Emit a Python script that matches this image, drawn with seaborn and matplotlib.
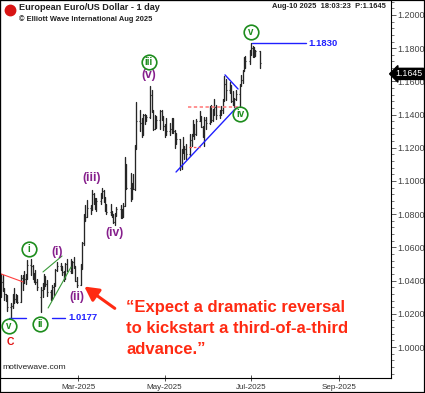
"""EUR/USD daily bars with Elliott wave labels (MotiveWave-style chart)."""

import matplotlib
import matplotlib.dates as mdates
import matplotlib.pyplot as plt
import matplotlib.ticker as mticker
import numpy as np
import pandas as pd
import seaborn as sns
from matplotlib.lines import Line2D
from matplotlib.patches import Rectangle
from matplotlib.transforms import blended_transform_factory

matplotlib.use("Agg")

# ------------------------------------------------------------
# daily OHLC, 2025-01-02 .. 2025-07-07 (business days)
# ------------------------------------------------------------
start_day = "2025-01-02"
end_day = "2025-07-07"

opens = [
    # Jan
    1.0352, 1.0265, 1.0308, 1.0390, 1.0343, 1.0318, 1.0300, 1.0243, 1.0244, 1.0307, 1.0290,
    1.0301, 1.0272, 1.0416, 1.0430, 1.0410, 1.0415, 1.0495, 1.0490, 1.0430, 1.0420, 1.0390,
    # Feb
    1.0300, 1.0345, 1.0380, 1.0405, 1.0380, 1.0330, 1.0305, 1.0360, 1.0380, 1.0465,
    1.0490, 1.0485, 1.0450, 1.0420, 1.0500, 1.0460, 1.0465, 1.0510, 1.0485, 1.0400,
    # Mar
    1.0375, 1.0485, 1.0625, 1.0790, 1.0785, 1.0835, 1.0835, 1.0920, 1.0890, 1.0850, 1.0880,
    1.0920, 1.0940, 1.0900, 1.0855, 1.0815, 1.0800, 1.0790, 1.0755, 1.0800, 1.0830,
    # Apr
    1.0815, 1.0790, 1.0850, 1.1050, 1.0960, 1.0910, 1.0960, 1.0950, 1.1200, 1.1360, 1.1350,
    1.1285, 1.1400, 1.1370, 1.1385, 1.1515, 1.1420, 1.1315, 1.1385, 1.1365, 1.1420, 1.1380,
    # May
    1.1330, 1.1290, 1.1300, 1.1315, 1.1370, 1.1300, 1.1230, 1.1250, 1.1090, 1.1190, 1.1175,
    1.1190, 1.1165, 1.1245, 1.1280, 1.1330, 1.1280, 1.1360, 1.1385, 1.1325, 1.1290, 1.1370,
    # Jun
    1.1350, 1.1440, 1.1370, 1.1420, 1.1445, 1.1395, 1.1420, 1.1425, 1.1485, 1.1585, 1.1550,
    1.1560, 1.1480, 1.1480, 1.1495, 1.1525, 1.1580, 1.1610, 1.1665, 1.1700, 1.1720,
    # Jul
    1.1785, 1.1800, 1.1800, 1.1755, 1.1780,
]
highs = [
    1.0367, 1.0310, 1.0437, 1.0435, 1.0355, 1.0320, 1.0314, 1.0265, 1.0318, 1.0353, 1.0318,
    1.0315, 1.0433, 1.0435, 1.0456, 1.0437, 1.0522, 1.0533, 1.0495, 1.0445, 1.0465, 1.0410,
    1.0360, 1.0385, 1.0442, 1.0425, 1.0405, 1.0345, 1.0375, 1.0385, 1.0470, 1.0513,
    1.0505, 1.0490, 1.0455, 1.0505, 1.0530, 1.0528, 1.0520, 1.0545, 1.0490, 1.0420,
    1.0500, 1.0630, 1.0800, 1.0855, 1.0888, 1.0855, 1.0947, 1.0925, 1.0895, 1.0900, 1.0925,
    1.0955, 1.0945, 1.0905, 1.0860, 1.0860, 1.0820, 1.0800, 1.0810, 1.0845, 1.0855,
    1.0830, 1.0870, 1.1145, 1.1100, 1.1050, 1.0990, 1.1040, 1.1215, 1.1474, 1.1425, 1.1380,
    1.1405, 1.1405, 1.1395, 1.1573, 1.1550, 1.1425, 1.1400, 1.1390, 1.1425, 1.1425, 1.1390,
    1.1345, 1.1380, 1.1350, 1.1380, 1.1380, 1.1310, 1.1290, 1.1255, 1.1195, 1.1265, 1.1210,
    1.1225, 1.1285, 1.1285, 1.1365, 1.1345, 1.1375, 1.1420, 1.1390, 1.1330, 1.1385, 1.1385,
    1.1450, 1.1455, 1.1435, 1.1495, 1.1455, 1.1430, 1.1450, 1.1495, 1.1630, 1.1615, 1.1595,
    1.1580, 1.1540, 1.1500, 1.1545, 1.1585, 1.1640, 1.1670, 1.1745, 1.1755, 1.1790,
    1.1830, 1.1810, 1.1805, 1.1790, 1.1785,
]
lows = [
    1.0226, 1.0230, 1.0300, 1.0340, 1.0285, 1.0280, 1.0215, 1.0177, 1.0235, 1.0265, 1.0270,
    1.0266, 1.0270, 1.0343, 1.0385, 1.0380, 1.0410, 1.0435, 1.0408, 1.0390, 1.0380, 1.0345,
    1.0210, 1.0300, 1.0350, 1.0365, 1.0305, 1.0285, 1.0290, 1.0316, 1.0370, 1.0460,
    1.0465, 1.0435, 1.0400, 1.0410, 1.0455, 1.0445, 1.0445, 1.0475, 1.0395, 1.0362,
    1.0375, 1.0470, 1.0615, 1.0760, 1.0785, 1.0800, 1.0825, 1.0860, 1.0830, 1.0820, 1.0860,
    1.0900, 1.0875, 1.0820, 1.0800, 1.0795, 1.0780, 1.0745, 1.0733, 1.0790, 1.0775,
    1.0777, 1.0780, 1.0850, 1.0950, 1.0880, 1.0890, 1.0950, 1.0945, 1.1195, 1.1300, 1.1265,
    1.1275, 1.1345, 1.1360, 1.1380, 1.1415, 1.1310, 1.1315, 1.1320, 1.1315, 1.1365, 1.1310,
    1.1265, 1.1275, 1.1275, 1.1290, 1.1290, 1.1200, 1.1220, 1.1065, 1.1075, 1.1170, 1.1130,
    1.1130, 1.1150, 1.1210, 1.1270, 1.1255, 1.1275, 1.1360, 1.1325, 1.1265, 1.1210, 1.1315,
    1.1345, 1.1355, 1.1360, 1.1400, 1.1375, 1.1380, 1.1400, 1.1410, 1.1480, 1.1490, 1.1530,
    1.1475, 1.1460, 1.1445, 1.1490, 1.1450, 1.1575, 1.1590, 1.1660, 1.1680, 1.1705,
    1.1760, 1.1745, 1.1745, 1.1750, 1.1680,
]
closes = [
    1.0265, 1.0308, 1.0390, 1.0343, 1.0318, 1.0300, 1.0243, 1.0244, 1.0307, 1.0290, 1.0301,
    1.0272, 1.0416, 1.0430, 1.0410, 1.0415, 1.0495, 1.0490, 1.0430, 1.0420, 1.0390, 1.0362,
    1.0345, 1.0380, 1.0405, 1.0380, 1.0330, 1.0305, 1.0360, 1.0380, 1.0465, 1.0490,
    1.0485, 1.0450, 1.0420, 1.0500, 1.0460, 1.0465, 1.0510, 1.0485, 1.0400, 1.0375,
    1.0485, 1.0625, 1.0790, 1.0785, 1.0835, 1.0835, 1.0920, 1.0890, 1.0850, 1.0880, 1.0920,
    1.0940, 1.0900, 1.0855, 1.0815, 1.0800, 1.0790, 1.0755, 1.0800, 1.0830, 1.0815,
    1.0790, 1.0850, 1.1050, 1.0960, 1.0910, 1.0960, 1.0950, 1.1200, 1.1360, 1.1350, 1.1285,
    1.1400, 1.1370, 1.1385, 1.1515, 1.1420, 1.1315, 1.1385, 1.1365, 1.1420, 1.1380, 1.1330,
    1.1290, 1.1300, 1.1315, 1.1370, 1.1300, 1.1230, 1.1250, 1.1090, 1.1190, 1.1175, 1.1190,
    1.1165, 1.1245, 1.1280, 1.1330, 1.1280, 1.1360, 1.1385, 1.1325, 1.1290, 1.1370, 1.1350,
    1.1440, 1.1370, 1.1420, 1.1445, 1.1395, 1.1420, 1.1425, 1.1485, 1.1585, 1.1550, 1.1560,
    1.1480, 1.1480, 1.1495, 1.1525, 1.1580, 1.1610, 1.1665, 1.1700, 1.1720, 1.1785,
    1.1800, 1.1800, 1.1755, 1.1780, 1.1710,
]

# wave labels: (text, date, price)
green_waves = [("v", "2025-01-11 10:00", 1.0127), ("i", "2025-01-25 12:00", 1.0590),
               ("ii", "2025-02-02 05:00", 1.0139), ("iii", "2025-04-20", 1.1717),
               ("iv", "2025-06-23 05:00", 1.1404), ("v", "2025-07-01", 1.1898)]
purple_waves = [("(i)", "2025-02-14 05:00", 1.0572), ("(ii)", "2025-02-28 08:00", 1.0301),
                ("(iii)", "2025-03-10 22:00", 1.1018), ("(iv)", "2025-03-26 10:00", 1.0685),
                ("(v)", "2025-04-20", 1.1639)]

low_level = 1.0177
high_level = 1.1830
last_price = "1.1645"

quote = "\u201cExpect a dramatic reversal\nto kickstart a third-of-a-third\nadvance.\u201d"

BAR = "#262626"
GREEN = "#1c8c1c"
PURPLE = "#861f8c"
BLUE = "#2020ff"
RED = "#ff2a12"


def dn(s):
    """Date string -> matplotlib date number."""
    return mdates.date2num(pd.Timestamp(s))


sns.set_theme(style="white")
plt.rcParams["font.family"] = ["Liberation Sans", "DejaVu Sans"]

dates = pd.bdate_range(start_day, end_day)
xnum = mdates.date2num(dates)
n = len(dates)

bars = pd.DataFrame({
    "x": np.repeat(xnum, 2),
    "price": np.column_stack([lows, highs]).ravel(),
    "bar": np.repeat(np.arange(n), 2),
})

fig = plt.figure(figsize=(4.25, 3.93), dpi=100)
ax = fig.add_axes([0.0, 15 / 393, 391 / 425, 378 / 393])

sns.lineplot(data=bars, x="x", y="price", units="bar", estimator=None,
             sort=False, color=BAR, linewidth=0.95, legend=False, ax=ax)
ax.hlines(opens, xnum - 0.7, xnum, color=BAR, linewidth=0.8)
ax.hlines(closes, xnum, xnum + 0.7, color=BAR, linewidth=0.8)

# axes range / ticks
mar1 = dn("2025-03-01")
ax.set_xlim(mar1 - 55.0, mar1 + 220.6)
ax.set_ylim(0.98133, 1.2090)
ax.set_xlabel("")
ax.set_ylabel("")
ax.xaxis.set_major_locator(mdates.MonthLocator(bymonth=[3, 5, 7, 9]))
ax.xaxis.set_major_formatter(mdates.DateFormatter("%b-%Y"))
ax.yaxis.tick_right()
ax.yaxis.set_major_locator(mticker.FixedLocator(np.arange(1.0, 1.2001, 0.02)))
ax.yaxis.set_major_formatter(mticker.FormatStrFormatter("%.4f"))
ax.yaxis.set_minor_locator(mticker.MultipleLocator(0.004))
ax.tick_params(axis="y", which="major", direction="out", length=3.5, width=0.6,
               labelsize=6.5, labelcolor="#444444", color="#444444", pad=1)
ax.tick_params(axis="y", which="minor", direction="out", length=2, width=0.5,
               color="#444444", right=True, left=False)
ax.tick_params(axis="x", which="major", direction="inout", length=4, width=0.6,
               labelsize=5.8, labelcolor="#333333", color="#333333", pad=2, bottom=True)
for s in ax.spines.values():
    s.set_color("black")
    s.set_linewidth(0.8)

# trend lines
ax.plot([dn("2025-01-02"), dn("2025-01-21 05:00")], [1.0452, 1.0392], color="#ff4040", lw=0.8)
ax.plot([dn("2025-02-04 07:00"), dn("2025-02-17 17:00")], [1.0452, 1.0548], color="#3a9a3a", lw=0.8)
ax.plot([dn("2025-02-07 22:00"), dn("2025-02-24 02:00")], [1.0235, 1.0482], color="#3a9a3a", lw=0.8)
ax.plot([dn("2025-01-11 10:00"), dn("2025-01-23")], [low_level, low_level], color=BLUE, lw=1)
ax.plot([dn("2025-02-10 17:00"), dn("2025-02-19 20:00")], [low_level, low_level], color=BLUE, lw=1)
ax.text(dn("2025-02-21 22:00"), low_level, f"{low_level:.4f}", color=BLUE, fontsize=6.8,
        fontweight="bold", va="center", ha="left")

ax.plot([dn("2025-05-09 02:00"), dn("2025-06-21 02:00")], [1.1054, 1.1446], color=BLUE, lw=1)
ax.plot([dn("2025-06-12 14:00"), dn("2025-06-21 19:00")], [1.1639, 1.1554], color=BLUE, lw=1)
ax.plot([dn("2025-05-17 12:00"), dn("2025-06-22")], [1.1446, 1.1446], color="#ff8080",
        lw=1.2, ls=(0, (2, 1.5)))
ax.plot([dn("2025-05-18 07:00"), dn("2025-05-26")], [1.1205, 1.1205], color="#ff5050",
        lw=0.9, ls=(0, (2, 1.5)))
ax.plot([dn("2025-07-01 17:00"), dn("2025-08-08 17:00")], [high_level, high_level], color=BLUE, lw=1)
ax.text(dn("2025-08-10"), high_level, f"{high_level:.4f}", color=BLUE, fontsize=6.8,
        fontweight="bold", va="center", ha="left")

# wave labels
for label, d, p in green_waves:
    ax.plot(dn(d), p, marker="o", ms=10.5, mfc="white", mec=GREEN, mew=1.2, zorder=5)
    ax.text(dn(d), p, label, color=GREEN, fontsize=7, fontweight="bold",
            ha="center", va="center", zorder=6)
for label, d, p in purple_waves:
    ax.text(dn(d), p, label, color=PURPLE, fontsize=8.7, fontweight="bold",
            ha="center", va="center")
ax.text(dn("2025-01-12"), 1.0030, "C", color="#e01010", fontsize=7.5, fontweight="bold",
        ha="center", va="center")

# comment + arrow
ax.annotate("", xy=(dn("2025-03-03 20:00"), 1.0374), xytext=(dn("2025-03-28 12:00"), 1.0223),
            arrowprops=dict(arrowstyle="-|>,head_length=0.6,head_width=0.32",
                            color=RED, lw=2.2, mutation_scale=14))
ax.text(dn("2025-04-04"), 1.0286, quote, color=RED, fontsize=12, fontweight="bold",
        ha="left", va="top", linespacing=1.5)

ax.text(0.007, 0.018, "motivewave.com", transform=ax.transAxes, fontsize=6.1,
        color="#222222", ha="left", va="bottom")

# last-price marker on the scale
trans = blended_transform_factory(ax.transAxes, ax.transData)
ax.text(1.046, 1.1645, last_price, transform=trans, color="white", fontsize=6.3,
        ha="center", va="center", clip_on=False, zorder=10,
        bbox=dict(boxstyle="larrow,pad=0.12", fc="black", ec="black"))

# header
fig.add_artist(Line2D([10 / 425], [1 - 10 / 393], marker="o", ms=7.5, color="#d81414",
                      transform=fig.transFigure))
fig.text(19 / 425, 1 - 8 / 393, "European Euro/US Dollar - 1 day", fontsize=6.6,
         fontweight="bold", color="#222222", ha="left", va="center")
fig.text(19 / 425, 1 - 19.5 / 393, "\u00a9 Elliott Wave International Aug 2025", fontsize=5.4,
         fontweight="bold", color="#222222", ha="left", va="center")
fig.text(386 / 425, 1 - 7 / 393, "Aug-10 2025  18:03:23  P:1.1645", fontsize=5.4,
         fontweight="bold", color="#222222", ha="right", va="center")

fig.add_artist(Rectangle((0, 0), 1, 1, transform=fig.transFigure, fill=False,
                         ec="black", lw=1.6))

fig.savefig("out.png", dpi=100)
plt.close(fig)
